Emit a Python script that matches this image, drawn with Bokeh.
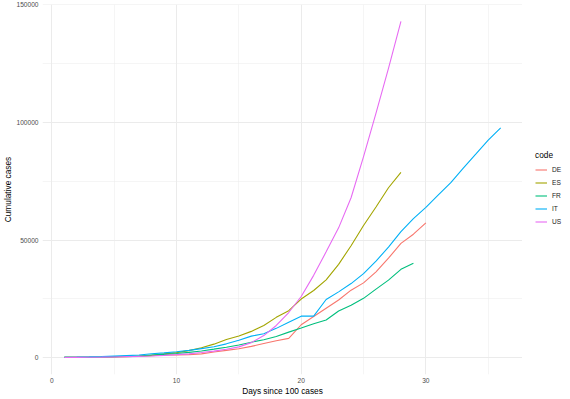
from bokeh.plotting import figure
from bokeh.layouts import row
from bokeh.models import Range1d, FixedTicker, NumeralTickFormatter, Legend, LegendItem
from bokeh.embed import file_html
from bokeh.resources import INLINE

codes = ["DE", "ES", "FR", "IT", "US"]
colors = ["#F8766D", "#A3A500", "#00BF7D", "#00B0F6", "#E76BF3"]

de_cases = [130, 150, 188, 240, 349, 534, 684, 847, 1112, 1139, 1296, 1600, 2400, 3100,
            3800, 4800, 6000, 7200, 8200, 14000, 17500, 21000, 24500, 28700, 31800, 36500,
            42300, 48600, 52500, 57300]
es_cases = [114, 151, 198, 257, 374, 430, 589, 999, 1622, 2140, 3004, 4231, 5753, 7753,
            9191, 11178, 13716, 17147, 19980, 24926, 28572, 33089, 39673, 47610, 56188,
            64059, 72248, 78797]
fr_cases = [130, 191, 212, 285, 423, 613, 706, 1116, 1402, 1774, 2269, 2860, 3640, 4469,
            5380, 6573, 7652, 9043, 10871, 12612, 14459, 16018, 19856, 22302, 25233, 29155,
            32964, 37575, 40174]
it_cases = [155, 229, 322, 453, 655, 888, 1128, 1694, 2036, 2502, 3089, 3858, 4636, 5883,
            7375, 9172, 10149, 12462, 15113, 17660, 17660, 24747, 27980, 31506, 35713, 41035,
            47021, 53578, 59138, 63927, 69176, 74386, 80589, 86498, 92472, 97689]
us_cases = [100, 124, 158, 221, 319, 435, 541, 704, 994, 1301, 1630, 2183, 2770, 3613, 4596,
            6400, 9400, 13700, 19200, 26000, 35000, 45000, 55200, 68000, 85500, 104000,
            123000, 143000]

series = [de_cases, es_cases, fr_cases, it_cases, us_cases]

x_ticks = [0, 10, 20, 30]
x_minor = [5, 15, 25, 35]
y_ticks = [0, 50000, 100000, 150000]
y_minor = [25000, 75000, 125000]

xmax = max(len(s) for s in series)
ymax = max(max(s) for s in series)
xpad = (xmax - 1) * 0.05
ypad = ymax * 0.05

p = figure(width=522, height=399, output_backend="svg", toolbar_location=None,
           x_range=Range1d(1 - xpad, xmax + xpad), y_range=Range1d(-ypad, ymax + ypad),
           min_border_left=41, min_border_right=0, min_border_top=4, min_border_bottom=25)
p.outline_line_color = None
p.background_fill_color = "white"
p.border_fill_color = "white"

for code, col, vals in zip(codes, colors, series):
    days = list(range(1, len(vals) + 1))
    p.line(days, vals, line_color=col, line_width=1.1)

p.xaxis.ticker = FixedTicker(ticks=x_ticks, minor_ticks=x_minor)
p.yaxis.ticker = FixedTicker(ticks=y_ticks, minor_ticks=y_minor)
p.yaxis.formatter = NumeralTickFormatter(format="0")

for g in (p.xgrid, p.ygrid):
    g.grid_line_color = "#EBEBEB"
    g.grid_line_width = 1
    g.minor_grid_line_color = "#EBEBEB"
    g.minor_grid_line_width = 0.5

for ax in (p.xaxis, p.yaxis):
    ax.axis_line_color = None
    ax.major_tick_line_color = None
    ax.minor_tick_line_color = None
    ax.major_tick_out = 0
    ax.major_tick_in = 0
    ax.minor_tick_out = 0
    ax.minor_tick_in = 0
    ax.major_label_text_font = "Liberation Sans"
    ax.major_label_text_font_size = "6.6px"
    ax.major_label_text_color = "#4D4D4D"
    ax.axis_label_text_font = "Liberation Sans"
    ax.axis_label_text_font_size = "8.3px"
    ax.axis_label_text_font_style = "normal"
    ax.axis_label_text_color = "black"

p.xaxis.axis_label = "Days since 100 cases"
p.yaxis.axis_label = "Cumulative cases"
p.xaxis.major_label_standoff = 3
p.yaxis.major_label_standoff = 4
p.xaxis.axis_label_standoff = 0
p.yaxis.axis_label_standoff = 0

# legend panel (separate narrow figure so the legend sits outside the plot frame)
lf = figure(width=48, height=399, output_backend="svg", toolbar_location=None,
            x_range=Range1d(0, 1), y_range=Range1d(0, 1),
            min_border_left=0, min_border_right=0, min_border_top=0, min_border_bottom=0)
lf.axis.visible = False
lf.grid.visible = False
lf.outline_line_color = None
lf.background_fill_color = "white"
lf.border_fill_color = "white"

items = []
for code, col in zip(codes, colors):
    # off-range placeholder line: only its legend swatch is visible
    r = lf.line(x=[5, 6], y=[5, 5], line_color=col, line_width=1.1)
    items.append(LegendItem(label=code, renderers=[r]))

legend = Legend(items=items, location=(13, 146), title="code")
legend.title_text_font = "Liberation Sans"
legend.title_text_font_size = "8.3px"
legend.title_text_font_style = "normal"
legend.title_text_color = "black"
legend.title_standoff = 3
legend.label_text_font = "Liberation Sans"
legend.label_text_font_size = "6.6px"
legend.label_text_color = "#1A1A1A"
legend.glyph_width = 12
legend.glyph_height = 13
legend.label_height = 13
legend.label_standoff = 5
legend.spacing = 0
legend.padding = 0
legend.margin = 0
legend.border_line_color = None
legend.background_fill_alpha = 0
lf.add_layout(legend, "center")

layout = row(p, lf)
open("out.html", "w").write(file_html(layout, INLINE))
